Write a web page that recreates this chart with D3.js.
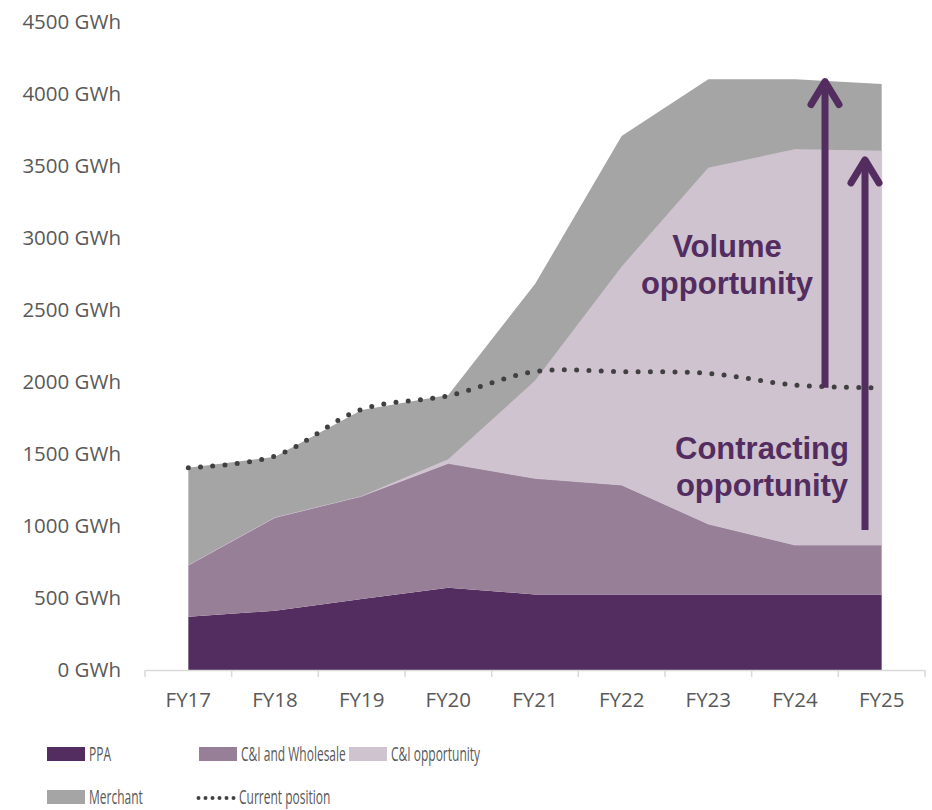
<!DOCTYPE html>
<html>
<head>
<meta charset="utf-8">
<script src="https://cdn.jsdelivr.net/npm/d3@7"></script>
<style>
  html, body { margin: 0; padding: 0; background: #ffffff; }
  svg { display: block; }
</style>
</head>
<body>
<svg id="chart" width="932" height="810"></svg>
<script>
// ---- Data ----
const categories = ["FY17", "FY18", "FY19", "FY20", "FY21", "FY22", "FY23", "FY24", "FY25"];
const ppa          = [370, 412, 493, 572, 525, 525, 525, 525, 525];
const ciWholesale  = [359, 648, 715, 863, 806, 760, 489, 343, 343];
const ciOpportunity= [0, 0, 0, 28, 677, 1516, 2474, 2748, 2738];
const merchant     = [676, 421, 598, 447, 672, 907, 614, 486, 463];
const currentPosition = [1405, 1486, 1810, 1905, 2072, 2072, 2060, 1979, 1960];
const yTicks = [0, 500, 1000, 1500, 2000, 2500, 3000, 3500, 4000, 4500];
const seriesNames = ["PPA", "C&I and Wholesale", "C&I opportunity", "Merchant"];
const seriesColors = ["#532d5f", "#987f98", "#cfc3d0", "#a5a5a5"];
// annotation arrows: [base value, tip value]
const volumeArrow = [1960, 4100];
const contractingArrow = [972, 3556];

// ---- Layout ----
const svg = d3.select("#chart");
const plot = { left: 145, right: 925, top: 22, bottom: 670 };

const x = d3.scaleBand().domain(categories).range([plot.left, plot.right]).padding(0);
const cx = c => x(c) + x.bandwidth() / 2;
const y = d3.scaleLinear().domain([0, 4500]).range([plot.bottom, plot.top]);

const rows = categories.map((c, i) => ({
  cat: c,
  "PPA": ppa[i],
  "C&I and Wholesale": ciWholesale[i],
  "C&I opportunity": ciOpportunity[i],
  "Merchant": merchant[i]
}));
const stacked = d3.stack().keys(seriesNames)(rows);

const area = d3.area()
  .x(d => cx(d.data.cat))
  .y0(d => y(d[0]))
  .y1(d => y(d[1]));

svg.append("g").selectAll("path")
  .data(stacked)
  .join("path")
  .attr("d", area)
  .attr("fill", (d, i) => seriesColors[i])
  .attr("stroke", (d, i) => i === 2 ? seriesColors[i] : "none")
  .attr("stroke-width", 0.8);

// ---- Y axis labels ----
const tickFont = "'Open Sans', 'DejaVu Sans', sans-serif";
svg.append("g").selectAll("text")
  .data(yTicks)
  .join("text")
  .attr("x", 121)
  .attr("y", d => y(d) + 7)
  .attr("text-anchor", "end")
  .attr("font-family", tickFont)
  .attr("font-size", 20.5)
  .attr("fill", "#595959")
  .text(d => d + " GWh");

// ---- X axis ----
const xa = svg.append("g");
xa.append("line")
  .attr("x1", plot.left).attr("x2", plot.right)
  .attr("y1", plot.bottom + 0.5).attr("y2", plot.bottom + 0.5)
  .attr("stroke", "#d9d9d9").attr("stroke-width", 1.5);
const boundaries = categories.map(c => x(c)).concat([x(categories[categories.length - 1]) + x.bandwidth()]);
xa.selectAll("line.tick")
  .data(boundaries)
  .join("line")
  .attr("class", "tick")
  .attr("x1", d => d).attr("x2", d => d)
  .attr("y1", plot.bottom).attr("y2", plot.bottom + 7)
  .attr("stroke", "#d9d9d9").attr("stroke-width", 1.5);
xa.selectAll("text")
  .data(categories)
  .join("text")
  .attr("x", d => cx(d))
  .attr("y", 707)
  .attr("text-anchor", "middle")
  .attr("font-family", tickFont)
  .attr("font-size", 20.5)
  .attr("fill", "#595959")
  .text(d => d);

// ---- Current position dotted line ----
const line = d3.line()
  .x((d, i) => cx(categories[i]))
  .y(d => y(d))
  .curve(d3.curveCatmullRom.alpha(0.5));
svg.append("path")
  .attr("d", line(currentPosition))
  .attr("fill", "none")
  .attr("stroke", "#404040")
  .attr("stroke-width", 5)
  .attr("stroke-linecap", "round")
  .attr("stroke-dasharray", "0 12.3");

// ---- Arrows ----
const purple = "#532d5f";
function arrow(xPos, vals) {
  const g = svg.append("g")
    .attr("stroke", purple).attr("stroke-width", 7)
    .attr("stroke-linecap", "round").attr("stroke-linejoin", "round")
    .attr("fill", "none");
  const yb = y(vals[0]), yt = y(vals[1]);
  g.append("line").attr("x1", xPos).attr("x2", xPos).attr("y1", yb).attr("y2", yt + 3)
    .attr("stroke-linecap", "butt");
  g.append("path").attr("d", `M${xPos - 14},${yt + 25} L${xPos},${yt + 2} L${xPos + 14},${yt + 25}`);
}
arrow(825, volumeArrow);
arrow(865, contractingArrow);

// ---- Annotation text ----
const annFont = "'Liberation Sans', Arial, sans-serif";
function ann(xc, y1, lines) {
  svg.append("g").selectAll("text")
    .data(lines)
    .join("text")
    .attr("x", xc)
    .attr("y", (d, i) => y1 + i * 37)
    .attr("text-anchor", "middle")
    .attr("font-family", annFont)
    .attr("font-weight", "bold")
    .attr("font-size", 31)
    .attr("fill", purple)
    .text(d => d);
}
ann(727, 257, ["Volume", "opportunity"]);
ann(762, 459, ["Contracting", "opportunity"]);

// ---- Legend ----
const legendItems = [
  { name: seriesNames[0], color: seriesColors[0], x: 47, y: 747, type: "rect" },
  { name: seriesNames[1], color: seriesColors[1], x: 199, y: 747, type: "rect" },
  { name: seriesNames[2], color: seriesColors[2], x: 349, y: 747, type: "rect" },
  { name: seriesNames[3], color: seriesColors[3], x: 47, y: 790, type: "rect" },
  { name: "Current position", color: "#404040", x: 197, y: 790, type: "dots" }
];
const lg = svg.append("g");
legendItems.forEach(it => {
  if (it.type === "rect") {
    lg.append("rect").attr("x", it.x).attr("y", it.y).attr("width", 38).attr("height", 14).attr("fill", it.color);
  } else {
    lg.append("line").attr("x1", it.x + 1.5).attr("x2", it.x + 38).attr("y1", it.y + 8).attr("y2", it.y + 8)
      .attr("stroke", it.color).attr("stroke-width", 4).attr("stroke-linecap", "round")
      .attr("stroke-dasharray", "0 7");
  }
  lg.append("text")
    .attr("transform", `translate(${it.x + 42},${it.y + 14}) scale(0.6,1)`)
    .attr("font-family", tickFont)
    .attr("font-size", 20)
    .attr("fill", "#595959")
    .text(it.name);
});
</script>
</body>
</html>
